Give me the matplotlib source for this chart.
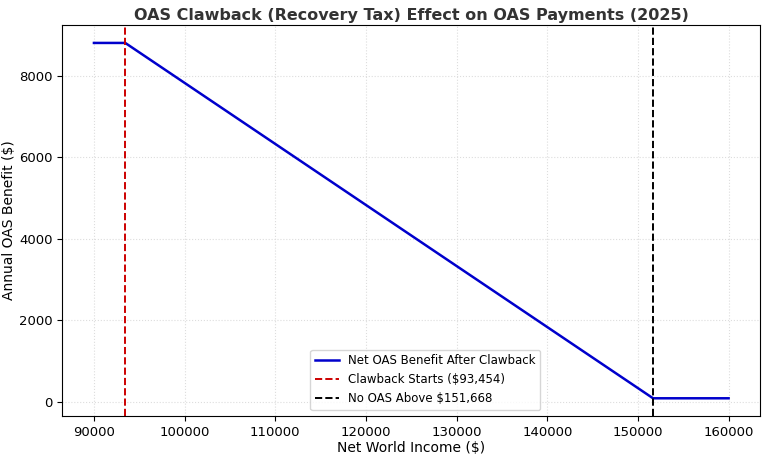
import matplotlib
matplotlib.use("Agg")
import matplotlib.pyplot as plt

income = [90000, 93454, 151668, 160000]
benefit = [8814, 8814, 82, 82]
clawback_start = 93454
no_oas = 151668

fig = plt.figure(figsize=(7.68, 4.58), dpi=100)
ax = fig.add_axes([0.081, 0.092, 0.909, 0.853])
ax.plot(income, benefit, color="#0000cc", lw=1.8, label="Net OAS Benefit After Clawback")
ax.axvline(clawback_start, color="#cc0000", ls="--", lw=1.4, label="Clawback Starts ($93,454)")
ax.axvline(no_oas, color="black", ls="--", lw=1.4, label="No OAS Above $151,668")
ax.set_xlim(86500, 163500)
ax.set_ylim(-350, 9250)
ax.set_xticks(range(90000, 160001, 10000))
ax.set_yticks(range(0, 8001, 2000))
ax.grid(True, ls=":", color="#dddddd", lw=0.8)
ax.set_xlabel("Net World Income ($)", fontsize=10, labelpad=2)
ax.set_ylabel("Annual OAS Benefit ($)", fontsize=10, labelpad=2)
ax.set_title("OAS Clawback (Recovery Tax) Effect on OAS Payments (2025)", fontsize=11.5, fontweight="bold", color="#333333", pad=4)
ax.tick_params(labelsize=9.5)
ax.legend(loc="lower center", fontsize=8.5, bbox_to_anchor=(0.52, 0.0))
fig.savefig("out.png", dpi=100)
